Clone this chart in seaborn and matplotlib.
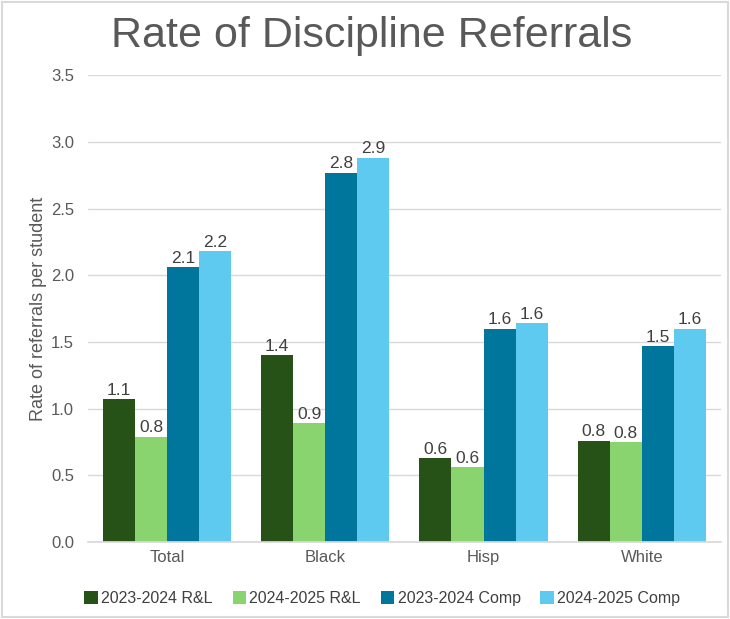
import matplotlib
matplotlib.use("Agg")
import matplotlib.pyplot as plt
import seaborn as sns
import pandas as pd

categories = ["Total", "Black", "Hisp", "White"]
series_names = ["2023-2024 R&L", "2024-2025 R&L", "2023-2024 Comp", "2024-2025 Comp"]
rl_2324 = [1.07, 1.40, 0.63, 0.76]
rl_2425 = [0.79, 0.89, 0.56, 0.75]
comp_2324 = [2.06, 2.77, 1.60, 1.47]
comp_2425 = [2.18, 2.88, 1.64, 1.60]
colors = ["#265117", "#8ad46f", "#00769c", "#5fcaf0"]

rows = []
for name, vals in zip(series_names, [rl_2324, rl_2425, comp_2324, comp_2425]):
    for c, v in zip(categories, vals):
        rows.append({"Group": c, "Series": name, "Rate": v})
df = pd.DataFrame(rows)

sns.set_theme(style="white")
plt.rcParams["font.family"] = ["Liberation Sans", "DejaVu Sans"]

fig = plt.figure(figsize=(7.30, 6.19), dpi=100)
ax = fig.add_axes([0.1205, 0.1245, 0.867, 0.754])
sns.barplot(data=df, x="Group", y="Rate", hue="Series", palette=colors,
            order=categories, hue_order=series_names, width=0.81, ax=ax,
            saturation=1, errorbar=None, legend=True, linewidth=0)

for cont in ax.containers:
    ax.bar_label(cont, fmt="%.1f", fontsize=12.5, color="#404040", padding=1)

ax.set_ylim(0, 3.5)
ax.set_yticks([0, 0.5, 1.0, 1.5, 2.0, 2.5, 3.0, 3.5])
ax.set_yticklabels([f"{t:.1f}" for t in ax.get_yticks()], fontsize=12, color="#595959")
ax.tick_params(axis="x", labelsize=12, labelcolor="#595959", length=0, pad=6)
ax.tick_params(axis="y", length=0, pad=10)
ax.yaxis.grid(True, color="#d9d9d9", linewidth=1)
ax.set_axisbelow(True)
for s in ["left", "right", "top"]:
    ax.spines[s].set_visible(False)
ax.spines["bottom"].set_color("#d9d9d9")
ax.set_xlabel("")
ax.set_ylabel("Rate of referrals per student", fontsize=13, color="#595959", labelpad=3)
ax.set_xlim(-0.5, 3.5)

leg = ax.legend(loc="center", bbox_to_anchor=(0.465, -0.121), ncol=4, frameon=False,
                fontsize=11.5, handlelength=0.85, handleheight=0.85, handletextpad=0.2,
                columnspacing=1.25, labelcolor="#404040")

fig.text(0.509, 0.942, "Rate of Discipline Referrals", ha="center", va="center",
         fontsize=31, color="#595959")

fig.patches.append(plt.Rectangle((0.003, 0.003), 0.994, 0.994, transform=fig.transFigure,
                                 fill=False, edgecolor="#d9d9d9", linewidth=1.5))

fig.savefig("out.png", dpi=100)
